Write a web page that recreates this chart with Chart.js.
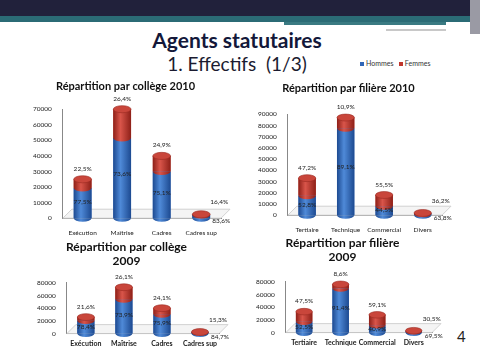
<!DOCTYPE html>
<html>
<head>
<meta charset="utf-8">
<script src="https://cdn.jsdelivr.net/npm/chart.js@4.4.1/dist/chart.umd.min.js"></script>
<style>
  body { margin: 0; width: 480px; height: 360px; background: #fff; position: relative; overflow: hidden; font-family: Lato, "Open Sans", sans-serif; }
  .band { position: absolute; }
  canvas { position: absolute; }
  #title { position: absolute; left: 0; width: 474px; top: 27px; text-align: center; font-weight: bold; font-size: 21px; color: #13183a; }
  #subtitle { position: absolute; left: 0; width: 474px; top: 52px; text-align: center; font-size: 19px; color: #1b1b30; }
  #legend { position: absolute; left: 360px; top: 59px; font-size: 7px; color: #333; white-space: nowrap; }
  #legend span.sq { display: inline-block; width: 4px; height: 4px; margin-right: 2px; vertical-align: middle; }
  #pagenum { position: absolute; left: 457px; top: 327px; font-size: 15px; color: #222; }
</style>
</head>
<body>
<div class="band" style="left:0;top:0;width:480px;height:16px;background:#21213b"></div>
<div class="band" style="left:0;top:16px;width:480px;height:6px;background:#2b6b75"></div>
<div class="band" style="left:284px;top:22px;width:162px;height:3px;background:#3a7a82"></div>
<div class="band" style="left:386px;top:29px;width:60px;height:2px;background:#c8c8c8"></div>
<div class="band" style="left:470px;top:0;width:10px;height:34px;background:#9a9aa4"></div>

<div id="title">Agents statutaires</div>
<div id="subtitle">1. Effectifs&nbsp; (1/3)</div>
<div id="legend"><span class="sq" style="background:#2f66b8"></span>Hommes&nbsp;&nbsp;&nbsp;<span class="sq" style="background:#c0362c"></span>Femmes</div>
<div id="pagenum">4</div>

<canvas id="c1" width="235" height="166" style="left:0;top:76px"></canvas>
<canvas id="c2" width="225" height="161" style="left:245px;top:78px"></canvas>
<canvas id="c3" width="235" height="117" style="left:0;top:236px"></canvas>
<canvas id="c4" width="225" height="120" style="left:253px;top:232px"></canvas>

<script>
const collegeLabels = ["Exécution", "Maîtrise", "Cadres", "Cadres sup"];
const filiereLabels = ["Tertiaire", "Technique", "Commercial", "Divers"];

const hommesCollege2010 = [19400, 51500, 30000, 2100];
const femmesCollege2010 = [5600, 18500, 10000, 400];
const pctHCollege2010 = ["77,5%", "73,6%", "75,1%", "83,6%"];
const pctFCollege2010 = ["22,5%", "26,4%", "24,9%", "16,4%"];

const hommesFiliere2010 = [17400, 77500, 8000, 1300];
const femmesFiliere2010 = [15600, 9500, 10000, 700];
const pctHFiliere2010 = ["52,8%", "89,1%", "44,5%", "63,8%"];
const pctFFiliere2010 = ["47,2%", "10,9%", "55,5%", "36,2%"];

const hommesCollege2009 = [20400, 54000, 30400, 2100];
const femmesCollege2009 = [5600, 19000, 9600, 400];
const pctHCollege2009 = ["78,4%", "73,9%", "75,9%", "84,7%"];
const pctFCollege2009 = ["21,6%", "26,1%", "24,1%", "15,3%"];

const hommesFiliere2009 = [17300, 69500, 11500, 2100];
const femmesFiliere2009 = [15700, 6500, 16500, 900];
const pctHFiliere2009 = ["52,5%", "91,4%", "40,9%", "69,5%"];
const pctFFiliere2009 = ["47,5%", "8,6%", "59,1%", "30,5%"];

const BLUE = "#2f66b8";
const RED = "#c0362c";
const FONT = "Lato, 'Open Sans', sans-serif";

function cylGradient(ctx, x, w, dark, light) {
  const g = ctx.createLinearGradient(x - w / 2, 0, x + w / 2, 0);
  g.addColorStop(0, dark);
  g.addColorStop(0.4, light);
  g.addColorStop(1, dark);
  return g;
}

// redraws each stacked bar as a shaded cylinder and writes the percentages
const cylinderPlugin = {
  id: "cylinder",
  beforeDatasetsDraw(chart) {
    // floor of the 3D box
    const ctx = chart.ctx;
    const ca = chart.chartArea;
    const d = 9;
    ctx.save();
    ctx.strokeStyle = "#c8c8c8";
    ctx.fillStyle = "#f4f4f4";
    ctx.lineWidth = 0.8;
    ctx.beginPath();
    ctx.moveTo(ca.left, ca.bottom);
    ctx.lineTo(ca.left + d, ca.bottom - d);
    ctx.lineTo(ca.right + d, ca.bottom - d);
    ctx.lineTo(ca.right, ca.bottom);
    ctx.closePath();
    ctx.fill();
    ctx.stroke();
    ctx.restore();
  },
  afterDatasetsDraw(chart, args, opts) {
    const ctx = chart.ctx;
    const metaH = chart.getDatasetMeta(0);
    const metaF = chart.getDatasetMeta(1);
    const pH = opts.pctH, pF = opts.pctF;
    ctx.save();
    metaH.data.forEach((bh, i) => {
      const bf = metaF.data[i];
      const x = bh.x, w = bh.width, rx = w / 2, ry = Math.max(2, w * 0.2);
      const blueG = cylGradient(ctx, x, w, "#1d4a91", "#4f8ad8");
      const redG = cylGradient(ctx, x, w, "#8e2018", "#d9554a");
      ctx.fillStyle = blueG;
      ctx.fillRect(x - rx, bh.y, w, bh.base - bh.y);
      ctx.beginPath();
      ctx.ellipse(x, bh.base, rx, ry, 0, 0, Math.PI);
      ctx.fill();
      ctx.fillStyle = redG;
      ctx.fillRect(x - rx, bf.y, w, bf.base - bf.y);
      ctx.beginPath();
      ctx.ellipse(x, bf.base, rx, ry, 0, 0, Math.PI);
      ctx.fill();
      ctx.fillStyle = "#c9463b";
      ctx.beginPath();
      ctx.ellipse(x, bf.y, rx, ry, 0, 0, Math.PI * 2);
      ctx.fill();
      ctx.strokeStyle = "#9a2a22";
      ctx.lineWidth = 0.6;
      ctx.stroke();

      ctx.fillStyle = "#222";
      ctx.font = "6.5px " + FONT;
      ctx.textAlign = "center";
      ctx.textBaseline = "middle";
      const small = (bh.base - bf.y) < 12;
      if (small) {
        ctx.fillText(pF[i], x + 18, bf.y - 12);
        ctx.fillText(pH[i], x + 20, bh.base + 3);
      } else {
        ctx.fillText(pF[i], x, bf.y - ry - 7);
        ctx.fillText(pH[i], x, bh.y + (bh.base - bh.y) * 0.45);
      }
    });
    ctx.restore();
  }
};

function makeChart(id, titleLines, labels, hommes, femmes, pctH, pctF, yMax, yStep, titleSize, titleGap, padding, xTick) {
  return new Chart(document.getElementById(id).getContext("2d"), {
    type: "bar",
    data: {
      labels: labels,
      datasets: [
        { label: "Hommes", data: hommes, backgroundColor: BLUE, barPercentage: 0.45, categoryPercentage: 1 },
        { label: "Femmes", data: femmes, backgroundColor: RED, barPercentage: 0.45, categoryPercentage: 1 },
      ],
    },
    options: {
      responsive: false,
      animation: false,
      layout: { padding: padding },
      plugins: {
        legend: { display: false },
        tooltip: { enabled: false },
        title: {
          display: true,
          text: titleLines,
          color: "#111",
          font: { family: FONT, size: titleSize, weight: "bold" },
          padding: { top: 0, bottom: titleGap },
        },
        cylinder: { pctH: pctH, pctF: pctF },
      },
      scales: {
        x: {
          stacked: true,
          grid: { display: false, tickLength: xTick.len },
          border: { color: "#888" },
          ticks: { color: "#222", font: { family: FONT, size: xTick.size, weight: xTick.weight }, maxRotation: 0, autoSkip: false },
        },
        y: {
          stacked: true,
          min: 0,
          max: yMax,
          grid: { display: false },
          border: { color: "#888" },
          ticks: { stepSize: yStep, color: "#222", font: { family: FONT, size: 6.5 }, callback: (v) => String(v) },
        },
      },
    },
    plugins: [cylinderPlugin],
  });
}

makeChart("c1", "Répartition par collège 2010", collegeLabels, hommesCollege2010, femmesCollege2010,
  pctHCollege2010, pctFCollege2010, 70000, 10000, 11, 16, { left: 30, right: 14, top: 4, bottom: 2 },
  { len: 8, size: 6.5, weight: "normal" });
makeChart("c2", "Répartition par filière 2010", filiereLabels, hommesFiliere2010, femmesFiliere2010,
  pctHFiliere2010, pctFFiliere2010, 90000, 10000, 11, 19, { left: 10, right: 28, top: 4, bottom: 2 },
  { len: 8, size: 6.5, weight: "normal" });
makeChart("c3", ["Répartition par collège", "2009"], collegeLabels, hommesCollege2009, femmesCollege2009,
  pctHCollege2009, pctFCollege2009, 80000, 20000, 12, 14, { left: 34, right: 16, top: 4, bottom: 2 },
  { len: 3, size: 7, weight: "bold" });
makeChart("c4", ["Répartition par filière", "2009"], filiereLabels, hommesFiliere2009, femmesFiliere2009,
  pctHFiliere2009, pctFFiliere2009, 80000, 20000, 12, 17, { left: 0, right: 46, top: 4, bottom: 2 },
  { len: 3, size: 7, weight: "bold" });
</script>
</body>
</html>
